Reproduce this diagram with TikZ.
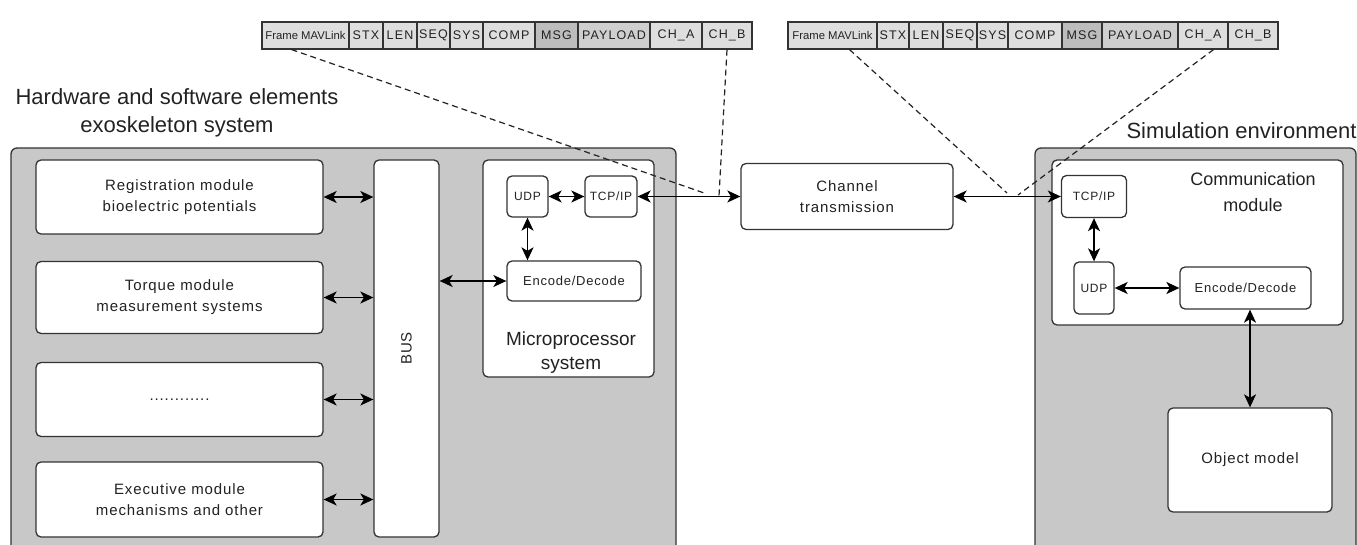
\documentclass[tikz,border=0pt]{standalone}
\usepackage{fontspec}
\setmainfont{Liberation Sans}
\newfontfamily\boxfont[LetterSpace=6]{Liberation Sans}
\newfontfamily\cellfont[LetterSpace=9]{Liberation Sans}
\usetikzlibrary{arrows.meta}

\definecolor{panel}{HTML}{C8C8C8}
\definecolor{edge}{HTML}{333333}
\definecolor{ink}{HTML}{222222}
\definecolor{cellgray}{HTML}{DEDEDE}
\definecolor{msggray}{HTML}{BDBDBD}
\definecolor{paygray}{HTML}{CFCFCF}

\tikzset{
  sz/.style 2 args={minimum width=#1pt, minimum height=#2pt},
  panelbox/.style={draw=edge, line width=1.3pt, fill=panel, rounded corners=6pt, inner sep=0pt},
  module/.style={draw=edge, line width=1.3pt, fill=white, rounded corners=5pt, inner sep=0pt,
    align=center, text=ink, font=\boxfont\fontsize{15}{21}\selectfont},
  small/.style={module, font=\boxfont\fontsize{12}{14}\selectfont},
  coder/.style={module, font=\boxfont\fontsize{13}{15}\selectfont},
  title/.style={inner sep=0pt, align=center, text=ink, font=\fontsize{22}{28}\selectfont},
  sublabel/.style={inner sep=0pt, align=center, text=ink},
  cell/.style={draw=edge, line width=1.1pt, inner sep=0pt, minimum height=27pt, text=ink,
    font=\cellfont\fontsize{12.5}{14}\selectfont},
  link/.style={{Stealth[length=13pt,width=12pt,inset=3.5pt]}-{Stealth[length=13pt,width=12pt,inset=3.5pt]},
    line width=1.5pt, draw=black},
  tap/.style={draw=ink, line width=1.2pt, dash pattern=on 6pt off 4pt}
}

\begin{document}
\begin{tikzpicture}[x=1pt,y=-1pt]
\useasboundingbox (0,0) rectangle (1357,545);
\clip (0,0) rectangle (1357,545);

% ---------- MAVLink frame strips ----------
\foreach \a/\b/\t/\f [count=\i] in {
  262/349/{\fontsize{11.3}{12}\selectfont\normalfont Frame MAVLink}/cellgray,
  349/383/STX/cellgray, 383/417/LEN/cellgray, 417/450/SEQ/cellgray,
  450/483/SYS/cellgray, 483/535/COMP/cellgray, 535/578/MSG/msggray,
  578/650/PAYLOAD/paygray, 650/702/CH\_A/cellgray, 702/752/CH\_B/cellgray}
{
  \pgfmathsetmacro\w{\b-\a}
  \pgfmathsetmacro\c{(\a+\b)/2}
  \node[cell, fill=\f, minimum width=\w pt] (fl\i) at (\c,35.5) {\t};
}
\foreach \a/\b/\t/\f [count=\i] in {
  788/877/{\fontsize{11.3}{12}\selectfont\normalfont Frame MAVLink}/cellgray,
  877/909/STX/cellgray, 909/943/LEN/cellgray, 943/977/SEQ/cellgray,
  977/1008/SYS/cellgray, 1008/1062/COMP/cellgray, 1062/1102/MSG/msggray,
  1102/1178/PAYLOAD/paygray, 1178/1228/CH\_A/cellgray, 1228/1278/CH\_B/cellgray}
{
  \pgfmathsetmacro\w{\b-\a}
  \pgfmathsetmacro\c{(\a+\b)/2}
  \node[cell, fill=\f, minimum width=\w pt] (fr\i) at (\c,35.5) {\t};
}

% ---------- exoskeleton side ----------
\node[title] (hwtitle) at (177,113) {Hardware and software elements\\exoskeleton system};
\node[panelbox, sz={665}{420}] (hw) at (343.5,358) {};

\node[module, sz={287}{74}] (reg)    at (179.5,197)   {Registration module\\bioelectric potentials};
\node[module, sz={287}{72}] (torque) at (179.5,297.5) {Torque module\\measurement systems};
\node[module, sz={287}{74}] (more)   at (179.5,399.5) {............};
\node[module, sz={287}{75}] (exec)   at (179.5,499.5) {Executive module\\mechanisms and other};

\node[module, sz={65}{377}] (bus) at (406.5,348.5) {};
\node[sublabel, rotate=90, font=\boxfont\fontsize{15}{18}\selectfont] (buslbl) at (bus.center) {BUS};

\node[module, sz={171}{217}] (micro) at (568.5,268.5) {};
\node[sublabel, font=\fontsize{19}{24}\selectfont] (microlbl) at (571,353) {Microprocessor\\system};
\node[small, sz={41}{41}] (udpM) at (527.5,196.5) {UDP};
\node[small, sz={52}{41}] (tcpM) at (611,196.5) {TCP/IP};
\node[coder, sz={134}{40}] (encM) at (574,281) {Encode/Decode};

% ---------- transmission channel ----------
\node[module, sz={212}{66}] (chan) at (847,196.5) {Channel\\transmission};

% ---------- simulation side ----------
\node[title] (simtitle) at (1241.5,131) {Simulation environment};
\node[panelbox, sz={321}{420}] (sim) at (1195.5,358) {};
\node[module, sz={291}{165}] (comm) at (1197.5,242.5) {};
\node[sublabel, font=\fontsize{18}{26}\selectfont] (commlbl) at (1253,192) {Communication\\module};
\node[small, sz={65}{42}] (tcpR) at (1094,196.5) {TCP/IP};
\node[small, sz={40}{52}] (udpR) at (1094,288) {UDP};
\node[coder, sz={131}{42}] (encR) at (1245.5,288) {Encode/Decode};
\node[module, sz={164}{104}] (objm) at (1250,460) {Object model};

% ---------- data links ----------
\foreach \m in {reg,torque,more,exec}
  \draw[link] (\m.east) -- (\m.east -| bus.west);
\draw[link] (bus.east |- encM.west) -- (encM.west);
\draw[link] (udpM.east) -- (tcpM.west);
\draw[link] (udpM.south) -- (udpM.south |- encM.north);
\draw[link] (tcpM.east) -- (chan.west);
\draw[link] (chan.east) -- (tcpR.west);
\draw[link] (tcpR.south) -- (udpR.north);
\draw[link] (udpR.east) -- (encR.west);
\draw[link] (objm.north |- encR.south) -- (objm.north);

% ---------- frame call-outs ----------
\coordinate (tapL1) at (707,194);
\coordinate (tapL2) at (719,196);
\coordinate (tapR1) at (1007,193);
\coordinate (tapR2) at (1018,195);
\draw[tap] ([xshift=30pt]fl1.south west) -- (tapL1);
\draw[tap] (fl10.south) -- (tapL2);
\draw[tap] ([xshift=62pt]fr1.south west) -- (tapR1);
\draw[tap] ([xshift=-15pt]fr9.south east) -- (tapR2);
\end{tikzpicture}
\end{document}
